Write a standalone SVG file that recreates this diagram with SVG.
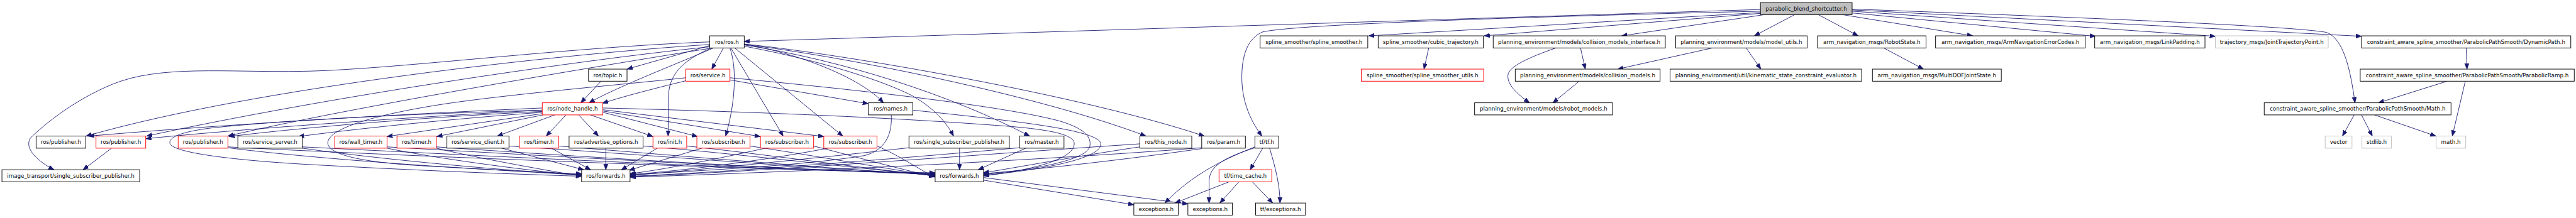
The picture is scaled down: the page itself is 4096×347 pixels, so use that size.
<svg xmlns="http://www.w3.org/2000/svg" width="4096" height="347" viewBox="0 0 4096 347">
<style>
.n rect{fill:#fff;stroke:#000;stroke-width:1.4}
.n.r rect{stroke:#ff0000}
.n.g rect{stroke:#bfbfbf}
.n.m rect{fill:#bfbfbf}
.n text{font-family:"DejaVu Sans",sans-serif;font-size:12.7px;text-anchor:middle;fill:#000}
#edges path{fill:none;stroke:#191970;stroke-width:1.3;marker-end:url(#ah)}
</style>
<defs>
<marker id="ah" markerUnits="userSpaceOnUse" markerWidth="14" markerHeight="11" refX="13" refY="5" orient="auto" viewBox="0 0 14 11"><path d="M0,0 L13,5 L0,10 z" fill="#191970" stroke="#191970" stroke-width="1"/></marker>
</defs>
<rect width="4096" height="347" fill="#fff"/>
<g transform="scale(0.687593)">
<g id="edges">
<path d="M4071,22 L1721,96"/>
<path d="M4071,26 C3600,37 3000,55 2920,74 C2880,90 2870,140 2872,190 C2875,250 2900,290 2918,315"/>
<path d="M4071,29 L3165,83"/>
<path d="M4071,31 L3432,83"/>
<path d="M4080,34 L3750,83"/>
<path d="M4150,34 L4057,83"/>
<path d="M4205,34 L4297,83"/>
<path d="M4261,34 L4562,83"/>
<path d="M4283,30 L4846,84"/>
<path d="M4283,26 L5123,84"/>
<path d="M4283,23 L5461,84"/>
<path d="M4283,21 C4800,40 5300,60 5380,75 C5420,90 5435,160 5446,238"/>
<path d="M3304,111 L3293,160"/>
<path d="M3655,111 L3666,160"/>
<path d="M3598,111 C3530,135 3488,155 3487,175 C3486,200 3515,222 3537,238"/>
<path d="M3960,111 L3741,160"/>
<path d="M4038,111 L4072,160"/>
<path d="M3652,188 L3591,238"/>
<path d="M4356,111 L4448,160"/>
<path d="M5703,111 L5705,160"/>
<path d="M5659,188 L5500,238"/>
<path d="M5701,188 L5671,315"/>
<path d="M5444,266 L5417,315"/>
<path d="M5461,266 L5486,315"/>
<path d="M5491,266 L5633,315"/>
<path d="M2920,343 L2891,393"/>
<path d="M2936,343 C2950,390 2960,430 2960,470"/>
<path d="M2902,340 C2840,365 2760,400 2694,470"/>
<path d="M2902,342 C2830,365 2796,385 2796,420 L2796,470"/>
<path d="M2842,421 L2717,470"/>
<path d="M2865,421 L2821,470"/>
<path d="M2896,421 L2943,470"/>
<path d="M2274,417 L2622,474"/>
<path d="M2274,411 L2747,472"/>
<path d="M1641,97 C1300,110 900,162 700,165 C520,168 370,150 260,195 C170,232 100,290 70,320 C55,345 90,375 125,393"/>
<path d="M1641,103 C1300,125 600,200 199,315"/>
<path d="M1645,108 C1400,132 800,215 339,315"/>
<path d="M1648,111 C1400,150 800,250 527,315"/>
<path d="M1643,105 L1450,160"/>
<path d="M1673,111 L1646,160"/>
<path d="M1650,111 C1560,150 1430,200 1362,238"/>
<path d="M1645,111 C1590,135 1548,165 1546,220 L1545,315"/>
<path d="M1688,111 C1705,160 1700,240 1678,315"/>
<path d="M1690,111 L1811,315"/>
<path d="M1699,111 L1949,315"/>
<path d="M1721,102 C1850,125 1990,180 2043,238"/>
<path d="M1721,107 C1900,140 2050,190 2110,222 C2160,250 2190,285 2205,315"/>
<path d="M1721,104 C1950,140 2200,220 2381,315"/>
<path d="M1721,103 C1950,130 2400,220 2650,315"/>
<path d="M1721,102 C1950,125 2500,220 2785,315"/>
<path d="M1390,188 L1343,238"/>
<path d="M1586,187 C1500,208 1440,224 1393,239"/>
<path d="M1688,185 L2008,240"/>
<path d="M1586,180 C1450,195 1150,220 1000,245 C850,270 760,300 758,330 C757,360 850,378 1000,385 C1150,393 1280,402 1345,405"/>
<path d="M1688,180 C1900,200 2300,240 2450,280 C2510,298 2525,318 2520,340 C2510,370 2400,392 2274,404"/>
<path d="M2061,266 C2063,300 2055,345 2000,360 C1850,385 1600,395 1457,405"/>
<path d="M2111,255 C2350,280 2530,300 2545,330 C2555,365 2420,392 2274,406"/>
<path d="M1394,250 C1800,260 2100,275 2300,290 C2450,300 2487,315 2484,335 C2480,370 2380,395 2274,407"/>
<path d="M1254,255 C1000,262 700,275 500,295 C410,305 390,320 393,332 C398,350 500,368 700,380 C1000,397 1250,405 1345,408"/>
<path d="M1254,250 C900,265 500,290 205,315"/>
<path d="M1254,255 C1000,268 600,295 337,321"/>
<path d="M1254,258 C1000,270 700,295 530,316"/>
<path d="M1254,260 C1050,275 850,295 690,316"/>
<path d="M1254,263 L895,316"/>
<path d="M1256,266 L1010,316"/>
<path d="M1283,266 L1150,315"/>
<path d="M1309,266 L1263,315"/>
<path d="M1338,266 L1384,315"/>
<path d="M1365,266 L1510,316"/>
<path d="M1394,260 L1613,316"/>
<path d="M1394,257 L1758,316"/>
<path d="M1394,254 L1905,316"/>
<path d="M258,343 L192,393"/>
<path d="M527,342 C700,365 1100,395 1345,402"/>
<path d="M527,340 C900,360 1800,395 2162,400"/>
<path d="M699,343 C850,365 1150,395 1345,404"/>
<path d="M699,340 C1100,360 1800,395 2162,401"/>
<path d="M895,343 C1000,365 1200,393 1345,406"/>
<path d="M895,340 C1250,360 1850,395 2162,402"/>
<path d="M1009,343 C1100,365 1250,392 1345,408"/>
<path d="M1009,340 C1300,360 1850,395 2162,403"/>
<path d="M1160,343 L1350,393"/>
<path d="M1177,338 C1450,355 1900,392 2162,404"/>
<path d="M1275,343 L1366,393"/>
<path d="M1292,338 C1500,355 1950,393 2162,405"/>
<path d="M1401,343 L1401,393"/>
<path d="M1487,338 C1700,355 2000,392 2162,406"/>
<path d="M1520,343 L1437,393"/>
<path d="M1588,338 C1750,355 2000,390 2162,407"/>
<path d="M1623,343 L1455,394"/>
<path d="M1734,338 C1850,355 2050,390 2162,408"/>
<path d="M1770,343 C1650,370 1520,395 1457,402"/>
<path d="M1881,338 C1950,355 2080,392 2162,409"/>
<path d="M1915,343 C1750,375 1550,398 1457,404"/>
<path d="M2028,338 C2080,360 2130,395 2162,410"/>
<path d="M2102,342 C1900,365 1600,395 1457,406"/>
<path d="M2219,343 L2219,393"/>
<path d="M2358,342 C2100,365 1700,398 1457,408"/>
<path d="M2372,343 L2262,393"/>
<path d="M2636,333 C2300,355 1800,395 1457,409"/>
<path d="M2636,340 C2500,360 2350,388 2274,400"/>
<path d="M2779,342 C2400,372 1800,400 1457,410"/>
<path d="M2779,344 C2600,370 2400,392 2274,402"/>
</g>
<g id="main" class="n m"><rect x="4071" y="6" width="212" height="28"/><text x="4177" y="24.3">parabolic_blend_shortcutter.h</text></g>
<g id="ros_ros" class="n"><rect x="1641" y="83" width="80" height="28"/><text x="1681" y="101.3">ros/ros.h</text></g>
<g id="spline_smoother" class="n"><rect x="2914" y="83" width="249" height="28"/><text x="3038.5" y="101.3">spline_smoother/spline_smoother.h</text></g>
<g id="cubic_trajectory" class="n"><rect x="3187" y="83" width="243" height="28"/><text x="3308.5" y="101.3">spline_smoother/cubic_trajectory.h</text></g>
<g id="collision_models_interface" class="n"><rect x="3453" y="83" width="398" height="28"/><text x="3652" y="101.3">planning_environment/models/collision_models_interface.h</text></g>
<g id="model_utils" class="n"><rect x="3875" y="83" width="304" height="28"/><text x="4027" y="101.3">planning_environment/models/model_utils.h</text></g>
<g id="robot_state" class="n"><rect x="4203" y="83" width="251" height="28"/><text x="4328.5" y="101.3">arm_navigation_msgs/RobotState.h</text></g>
<g id="error_codes" class="n"><rect x="4476" y="83" width="346" height="28"/><text x="4649" y="101.3">arm_navigation_msgs/ArmNavigationErrorCodes.h</text></g>
<g id="link_padding" class="n"><rect x="4844" y="83" width="255" height="28"/><text x="4971.5" y="101.3">arm_navigation_msgs/LinkPadding.h</text></g>
<g id="jtp" class="n g"><rect x="5123" y="83" width="261" height="28"/><text x="5253.5" y="101.3">trajectory_msgs/JointTrajectoryPoint.h</text></g>
<g id="dynamic_path" class="n"><rect x="5461" y="83" width="484" height="28"/><text x="5703" y="101.3">constraint_aware_spline_smoother/ParabolicPathSmooth/DynamicPath.h</text></g>
<g id="ros_topic" class="n"><rect x="1361" y="160" width="89" height="28"/><text x="1405.5" y="178.3">ros/topic.h</text></g>
<g id="ros_service" class="n r"><rect x="1586" y="160" width="102" height="28"/><text x="1637" y="178.3">ros/service.h</text></g>
<g id="ss_utils" class="n r"><rect x="3148" y="160" width="283" height="28"/><text x="3289.5" y="178.3">spline_smoother/spline_smoother_utils.h</text></g>
<g id="collision_models" class="n"><rect x="3504" y="160" width="335" height="28"/><text x="3671.5" y="178.3">planning_environment/models/collision_models.h</text></g>
<g id="ksce" class="n"><rect x="3862" y="160" width="443" height="28"/><text x="4083.5" y="178.3">planning_environment/util/kinematic_state_constraint_evaluator.h</text></g>
<g id="multidof" class="n"><rect x="4330" y="160" width="298" height="28"/><text x="4479" y="178.3">arm_navigation_msgs/MultiDOFJointState.h</text></g>
<g id="parabolic_ramp" class="n"><rect x="5458" y="160" width="495" height="28"/><text x="5705.5" y="178.3">constraint_aware_spline_smoother/ParabolicPathSmooth/ParabolicRamp.h</text></g>
<g id="node_handle" class="n r"><rect x="1254" y="238" width="140" height="28"/><text x="1324" y="256.3">ros/node_handle.h</text></g>
<g id="ros_names" class="n"><rect x="2008" y="238" width="103" height="28"/><text x="2059.5" y="256.3">ros/names.h</text></g>
<g id="robot_models" class="n"><rect x="3410" y="238" width="319" height="28"/><text x="3569.5" y="256.3">planning_environment/models/robot_models.h</text></g>
<g id="math_h" class="n"><rect x="5236" y="238" width="432" height="28"/><text x="5452" y="256.3">constraint_aware_spline_smoother/ParabolicPathSmooth/Math.h</text></g>
<g id="pub0" class="n"><rect x="83.5" y="315" width="115" height="28"/><text x="141" y="333.3">ros/publisher.h</text></g>
<g id="pub1" class="n r"><rect x="222" y="315" width="115" height="28"/><text x="279.5" y="333.3">ros/publisher.h</text></g>
<g id="pub2" class="n r"><rect x="412" y="315" width="115" height="28"/><text x="469.5" y="333.3">ros/publisher.h</text></g>
<g id="service_server" class="n"><rect x="550" y="315" width="149" height="28"/><text x="624.5" y="333.3">ros/service_server.h</text></g>
<g id="wall_timer" class="n r"><rect x="774" y="315" width="121" height="28"/><text x="834.5" y="333.3">ros/wall_timer.h</text></g>
<g id="timer1" class="n r"><rect x="918" y="315" width="91" height="28"/><text x="963.5" y="333.3">ros/timer.h</text></g>
<g id="service_client" class="n"><rect x="1033.5" y="315" width="143.5" height="28"/><text x="1105.25" y="333.3">ros/service_client.h</text></g>
<g id="timer2" class="n r"><rect x="1201" y="315" width="91" height="28"/><text x="1246.5" y="333.3">ros/timer.h</text></g>
<g id="advertise_options" class="n"><rect x="1316" y="315" width="171" height="28"/><text x="1401.5" y="333.3">ros/advertise_options.h</text></g>
<g id="ros_init" class="n r"><rect x="1510" y="315" width="78" height="28"/><text x="1549" y="333.3">ros/init.h</text></g>
<g id="sub1" class="n r"><rect x="1611.5" y="315" width="123" height="28"/><text x="1673" y="333.3">ros/subscriber.h</text></g>
<g id="sub2" class="n r"><rect x="1758.5" y="315" width="123" height="28"/><text x="1820" y="333.3">ros/subscriber.h</text></g>
<g id="sub3" class="n r"><rect x="1905" y="315" width="123" height="28"/><text x="1966.5" y="333.3">ros/subscriber.h</text></g>
<g id="ssp" class="n"><rect x="2102" y="315" width="232" height="28"/><text x="2218" y="333.3">ros/single_subscriber_publisher.h</text></g>
<g id="ros_master" class="n"><rect x="2357.5" y="315" width="103" height="28"/><text x="2409" y="333.3">ros/master.h</text></g>
<g id="this_node" class="n"><rect x="2636" y="315" width="120" height="28"/><text x="2696" y="333.3">ros/this_node.h</text></g>
<g id="ros_param" class="n"><rect x="2779" y="315" width="101" height="28"/><text x="2829.5" y="333.3">ros/param.h</text></g>
<g id="tf_tf" class="n"><rect x="2902" y="315" width="55" height="28"/><text x="2929.5" y="333.3">tf/tf.h</text></g>
<g id="vector" class="n g"><rect x="5377" y="315" width="62" height="28"/><text x="5408" y="333.3">vector</text></g>
<g id="stdlib" class="n g"><rect x="5462" y="315" width="68" height="28"/><text x="5496" y="333.3">stdlib.h</text></g>
<g id="math_sys" class="n g"><rect x="5633.5" y="315" width="68.5" height="28"/><text x="5667.75" y="333.3">math.h</text></g>
<g id="image_transport" class="n"><rect x="4.5" y="393" width="318.5" height="28"/><text x="163.75" y="411.3">image_transport/single_subscriber_publisher.h</text></g>
<g id="forwards1" class="n"><rect x="1345" y="393" width="112" height="28"/><text x="1401" y="411.3">ros/forwards.h</text></g>
<g id="forwards2" class="n"><rect x="2162.5" y="393" width="112" height="28"/><text x="2218.5" y="411.3">ros/forwards.h</text></g>
<g id="time_cache" class="n r"><rect x="2819" y="393" width="122" height="28"/><text x="2880" y="411.3">tf/time_cache.h</text></g>
<g id="exceptions1" class="n"><rect x="2622" y="470" width="103" height="28"/><text x="2673.5" y="488.3">exceptions.h</text></g>
<g id="exceptions2" class="n"><rect x="2747" y="470" width="103" height="28"/><text x="2798.5" y="488.3">exceptions.h</text></g>
<g id="tf_exceptions" class="n"><rect x="2903.5" y="470" width="115.5" height="28"/><text x="2961.25" y="488.3">tf/exceptions.h</text></g>
</g>
</svg>
